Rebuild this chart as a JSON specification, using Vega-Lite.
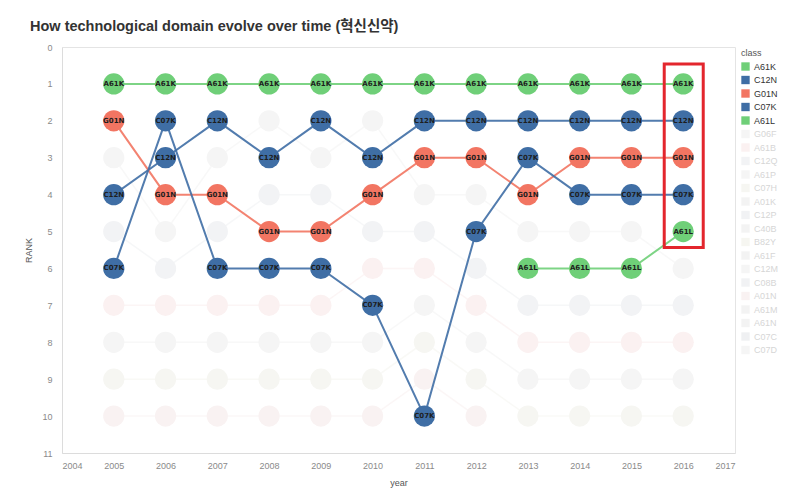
{
  "$schema": "https://vega.github.io/schema/vega-lite/v6.json",
  "autosize": "none",
  "width": 673,
  "height": 406,
  "padding": {"left": 62, "top": 47, "right": 71, "bottom": 45},
  "background": "white",
  "title": {
    "text": "How technological domain evolve over time (혁신신약)",
    "anchor": "start",
    "frame": "group",
    "dx": -32,
    "offset": 9,
    "font": "Liberation Sans, Noto Sans CJK KR",
    "fontSize": 14.5,
    "fontWeight": "bold",
    "color": "#333333"
  },
  "data": {
    "values": [
      {"year": 2005, "rank": 1, "class": "A61K"}, {"year": 2006, "rank": 1, "class": "A61K"}, {"year": 2007, "rank": 1, "class": "A61K"}, {"year": 2008, "rank": 1, "class": "A61K"}, {"year": 2009, "rank": 1, "class": "A61K"}, {"year": 2010, "rank": 1, "class": "A61K"}, {"year": 2011, "rank": 1, "class": "A61K"}, {"year": 2012, "rank": 1, "class": "A61K"}, {"year": 2013, "rank": 1, "class": "A61K"}, {"year": 2014, "rank": 1, "class": "A61K"}, {"year": 2015, "rank": 1, "class": "A61K"}, {"year": 2016, "rank": 1, "class": "A61K"},
      {"year": 2005, "rank": 4, "class": "C12N"}, {"year": 2006, "rank": 3, "class": "C12N"}, {"year": 2007, "rank": 2, "class": "C12N"}, {"year": 2008, "rank": 3, "class": "C12N"}, {"year": 2009, "rank": 2, "class": "C12N"}, {"year": 2010, "rank": 3, "class": "C12N"}, {"year": 2011, "rank": 2, "class": "C12N"}, {"year": 2012, "rank": 2, "class": "C12N"}, {"year": 2013, "rank": 2, "class": "C12N"}, {"year": 2014, "rank": 2, "class": "C12N"}, {"year": 2015, "rank": 2, "class": "C12N"}, {"year": 2016, "rank": 2, "class": "C12N"},
      {"year": 2005, "rank": 2, "class": "G01N"}, {"year": 2006, "rank": 4, "class": "G01N"}, {"year": 2007, "rank": 4, "class": "G01N"}, {"year": 2008, "rank": 5, "class": "G01N"}, {"year": 2009, "rank": 5, "class": "G01N"}, {"year": 2010, "rank": 4, "class": "G01N"}, {"year": 2011, "rank": 3, "class": "G01N"}, {"year": 2012, "rank": 3, "class": "G01N"}, {"year": 2013, "rank": 4, "class": "G01N"}, {"year": 2014, "rank": 3, "class": "G01N"}, {"year": 2015, "rank": 3, "class": "G01N"}, {"year": 2016, "rank": 3, "class": "G01N"},
      {"year": 2005, "rank": 6, "class": "C07K"}, {"year": 2006, "rank": 2, "class": "C07K"}, {"year": 2007, "rank": 6, "class": "C07K"}, {"year": 2008, "rank": 6, "class": "C07K"}, {"year": 2009, "rank": 6, "class": "C07K"}, {"year": 2010, "rank": 7, "class": "C07K"}, {"year": 2011, "rank": 10, "class": "C07K"}, {"year": 2012, "rank": 5, "class": "C07K"}, {"year": 2013, "rank": 3, "class": "C07K"}, {"year": 2014, "rank": 4, "class": "C07K"}, {"year": 2015, "rank": 4, "class": "C07K"}, {"year": 2016, "rank": 4, "class": "C07K"},
      {"year": 2013, "rank": 6, "class": "A61L"}, {"year": 2014, "rank": 6, "class": "A61L"}, {"year": 2015, "rank": 6, "class": "A61L"}, {"year": 2016, "rank": 5, "class": "A61L"},
      {"year": 2005, "rank": 3, "class": "A61P"}, {"year": 2006, "rank": 5, "class": "A61P"}, {"year": 2007, "rank": 3, "class": "A61P"}, {"year": 2008, "rank": 2, "class": "A61P"}, {"year": 2009, "rank": 3, "class": "A61P"}, {"year": 2010, "rank": 2, "class": "A61P"}, {"year": 2011, "rank": 4, "class": "A61P"}, {"year": 2012, "rank": 4, "class": "A61P"}, {"year": 2013, "rank": 5, "class": "A61P"}, {"year": 2014, "rank": 5, "class": "A61P"}, {"year": 2015, "rank": 5, "class": "A61P"}, {"year": 2016, "rank": 6, "class": "A61P"},
      {"year": 2005, "rank": 5, "class": "C12Q"}, {"year": 2006, "rank": 6, "class": "C12Q"}, {"year": 2007, "rank": 5, "class": "C12Q"}, {"year": 2008, "rank": 4, "class": "C12Q"}, {"year": 2009, "rank": 4, "class": "C12Q"}, {"year": 2010, "rank": 5, "class": "C12Q"}, {"year": 2011, "rank": 5, "class": "C12Q"}, {"year": 2012, "rank": 6, "class": "C12Q"}, {"year": 2013, "rank": 7, "class": "C12Q"}, {"year": 2014, "rank": 7, "class": "C12Q"}, {"year": 2015, "rank": 7, "class": "C12Q"}, {"year": 2016, "rank": 7, "class": "C12Q"},
      {"year": 2005, "rank": 7, "class": "A61B"}, {"year": 2006, "rank": 7, "class": "A61B"}, {"year": 2007, "rank": 7, "class": "A61B"}, {"year": 2008, "rank": 7, "class": "A61B"}, {"year": 2009, "rank": 7, "class": "A61B"}, {"year": 2010, "rank": 6, "class": "A61B"}, {"year": 2011, "rank": 6, "class": "A61B"}, {"year": 2012, "rank": 7, "class": "A61B"}, {"year": 2013, "rank": 8, "class": "A61B"}, {"year": 2014, "rank": 8, "class": "A61B"}, {"year": 2015, "rank": 8, "class": "A61B"}, {"year": 2016, "rank": 8, "class": "A61B"},
      {"year": 2005, "rank": 8, "class": "G06F"}, {"year": 2006, "rank": 8, "class": "G06F"}, {"year": 2007, "rank": 8, "class": "G06F"}, {"year": 2008, "rank": 8, "class": "G06F"}, {"year": 2009, "rank": 8, "class": "G06F"}, {"year": 2010, "rank": 8, "class": "G06F"}, {"year": 2011, "rank": 7, "class": "G06F"}, {"year": 2012, "rank": 8, "class": "G06F"}, {"year": 2013, "rank": 9, "class": "G06F"}, {"year": 2014, "rank": 9, "class": "G06F"}, {"year": 2015, "rank": 9, "class": "G06F"}, {"year": 2016, "rank": 9, "class": "G06F"},
      {"year": 2005, "rank": 9, "class": "C07H"}, {"year": 2006, "rank": 9, "class": "C07H"}, {"year": 2007, "rank": 9, "class": "C07H"}, {"year": 2008, "rank": 9, "class": "C07H"}, {"year": 2009, "rank": 9, "class": "C07H"}, {"year": 2010, "rank": 9, "class": "C07H"}, {"year": 2011, "rank": 8, "class": "C07H"}, {"year": 2012, "rank": 9, "class": "C07H"}, {"year": 2013, "rank": 10, "class": "C07H"}, {"year": 2014, "rank": 10, "class": "C07H"}, {"year": 2015, "rank": 10, "class": "C07H"}, {"year": 2016, "rank": 10, "class": "C07H"},
      {"year": 2005, "rank": 10, "class": "A01N"}, {"year": 2006, "rank": 10, "class": "A01N"}, {"year": 2007, "rank": 10, "class": "A01N"}, {"year": 2008, "rank": 10, "class": "A01N"}, {"year": 2009, "rank": 10, "class": "A01N"}, {"year": 2010, "rank": 10, "class": "A01N"}, {"year": 2011, "rank": 9, "class": "A01N"}, {"year": 2012, "rank": 10, "class": "A01N"}
    ]
  },
  "encoding": {
    "x": {
      "field": "year", "type": "quantitative", "title": "year",
      "scale": {"domain": [2004, 2017], "nice": false, "zero": false},
      "axis": {"values": [2004, 2005, 2006, 2007, 2008, 2009, 2010, 2011, 2012, 2013, 2014, 2015, 2016, 2017], "format": "d"}
    },
    "y": {
      "field": "rank", "type": "quantitative", "title": "RANK",
      "scale": {"domain": [0, 11], "reverse": true, "nice": false, "zero": false},
      "axis": {"values": [0, 1, 2, 3, 4, 5, 6, 7, 8, 9, 10, 11]}
    },
    "color": {
      "field": "class", "type": "nominal", "title": "class",
      "scale": {
        "domain": ["A61K", "C12N", "G01N", "C07K", "A61L", "G06F", "A61B", "C12Q", "A61P", "C07H", "A01K", "C12P", "C40B", "B82Y", "A61F", "C12M", "C08B", "A01N", "A61M", "A61N", "C07C", "C07D"],
        "range": ["#6fcf78", "#3f6ea5", "#f27562", "#3f6ea5", "#6fcf78", "#f5f5f5", "#fbf1f1", "#f2f3f5", "#f5f5f5", "#f6f6f2", "#f3f3f3", "#f1f2f4", "#f3f3f3", "#f6f6f1", "#f3f3f3", "#f5f5f5", "#f1f2f4", "#f9f2f2", "#f3f3f3", "#f3f3f3", "#eff0f2", "#f5f5f5"]
      }
    }
  },
  "layer": [
    {
      "transform": [{"filter": "indexof(['A61K','C12N','G01N','C07K','A61L'], datum.class) < 0"}],
      "mark": {"type": "line", "strokeWidth": 1.5, "opacity": 0.7},
      "encoding": {"order": {"field": "year"}}
    },
    {
      "transform": [{"filter": "indexof(['A61K','C12N','G01N','C07K','A61L'], datum.class) < 0"}],
      "mark": {"type": "circle", "size": 450, "opacity": 1}
    },
    {
      "transform": [{"filter": "indexof(['A61K','C12N','G01N','C07K','A61L'], datum.class) >= 0"}],
      "mark": {"type": "line", "strokeWidth": 2, "opacity": 0.9},
      "encoding": {"order": {"field": "year"}}
    },
    {
      "transform": [{"filter": "indexof(['A61K','C12N','G01N','C07K','A61L'], datum.class) >= 0"}],
      "mark": {"type": "circle", "size": 450, "opacity": 1}
    },
    {
      "transform": [{"filter": "indexof(['A61K','C12N','G01N','C07K','A61L'], datum.class) >= 0"}],
      "mark": {"type": "text", "fontSize": 7, "fontWeight": "bold", "font": "DejaVu Sans", "color": "#1e1e1e"},
      "encoding": {"text": {"field": "class"}, "color": {"value": "#1e1e1e"}}
    },
    {
      "transform": [
        {"filter": "datum.year == 2016 && datum.rank <= 5"},
        {"aggregate": [{"op": "min", "field": "rank", "as": "rmin"}, {"op": "max", "field": "rank", "as": "rmax"}], "groupby": ["year"]}
      ],
      "mark": {"type": "rect", "fill": null, "fillOpacity": 0, "stroke": "#e3262d", "strokeWidth": 3, "xOffset": -19, "x2Offset": 20, "yOffset": -20, "y2Offset": 16},
      "encoding": {
        "x": {"field": "year", "type": "quantitative"},
        "x2": {"field": "year"},
        "y": {"field": "rmin", "type": "quantitative"},
        "y2": {"field": "rmax"},
        "color": {"value": "#e3262d"}
      }
    }
  ],
  "config": {
    "view": {"stroke": "#e4e4e4", "strokeWidth": 1},
    "font": "Liberation Sans",
    "axis": {
      "grid": false,
      "ticks": false,
      "domainColor": "#dcdcdc",
      "labelColor": "#8a8a8a",
      "labelFontSize": 9,
      "labelFont": "Liberation Sans",
      "titleColor": "#555555",
      "titleFontSize": 9,
      "titleFontWeight": "normal",
      "titleFont": "Liberation Sans"
    },
    "axisX": {"labelPadding": 8, "titlePadding": 8},
    "axisY": {"labelPadding": 10, "titlePadding": 8},
    "legend": {
      "offset": 4,
      "orient": "right",
      "symbolType": "square",
      "symbolSize": 70,
      "symbolStrokeWidth": 0,
      "symbolOpacity": 1,
      "labelFontSize": 9,
      "labelFont": "Liberation Sans",
      "labelColor": {"expr": "indexof(['A61K','C12N','G01N','C07K','A61L'], datum.label) >= 0 ? '#333333' : '#d6d6d6'"},
      "titleFontSize": 9,
      "titleFontWeight": "normal",
      "titleColor": "#555555",
      "rowPadding": 3.5,
      "padding": 2,
      "titlePadding": 4
    }
  }
}
